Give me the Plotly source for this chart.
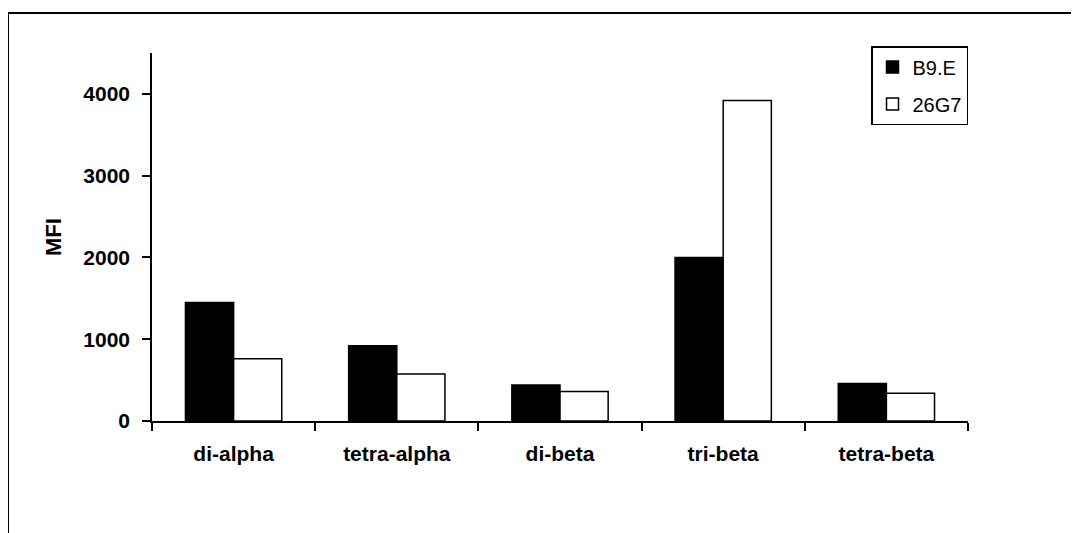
import plotly.graph_objects as go

categories = ["di-alpha", "tetra-alpha", "di-beta", "tri-beta", "tetra-beta"]
b9e = [1450, 920, 440, 2000, 460]
g26 = [760, 575, 360, 3920, 340]
series_names = ["B9.E", "26G7"]

fig = go.Figure()
fig.add_trace(go.Bar(x=categories, y=b9e, name=series_names[0], legendgroup="a",
                     marker=dict(color="black", line=dict(color="black", width=1.5))))
fig.add_trace(go.Bar(x=categories, y=g26, name=series_names[1], legendgroup="b",
                     marker=dict(color="white", line=dict(color="black", width=1.5))))

OFF = 8  # browser body margin
L, R, T, B = 152 - OFF, 968 - OFF, 53 - OFF, 421 - OFF
W, H = 1079, 533
pw, ph = R - L, B - T

def px(x):
    return (x - OFF - L) / pw

def py(y):
    return (B - (y - OFF)) / ph

FONT = "Liberation Sans, Arial, sans-serif"

fig.update_layout(
    width=W, height=H,
    margin=dict(l=L, r=W - R, t=T, b=H - B, pad=0),
    paper_bgcolor="white", plot_bgcolor="white",
    barmode="group", bargap=0.41, bargroupgap=0,
    font=dict(family=FONT, color="black"),
    showlegend=True,
    legend=dict(x=px(968), y=py(46), xanchor="right", yanchor="top",
                bordercolor="black", borderwidth=1.5, bgcolor="white",
                font=dict(size=20, family=FONT),
                tracegroupgap=8),
    xaxis=dict(showline=True, linecolor="black", linewidth=1.5,
               ticks="outside", tickson="boundaries", ticklen=8, tickwidth=1.5,
               tickcolor="black", ticklabelstandoff=13,
               tickfont=dict(size=21, family=FONT, weight="bold"),
               showgrid=False, zeroline=False),
    yaxis=dict(range=[0, 4500], tickvals=[0, 1000, 2000, 3000, 4000],
               showline=True, linecolor="black", linewidth=1.5,
               ticks="outside", ticklen=8, tickwidth=1.5, tickcolor="black",
               ticklabelstandoff=8,
               tickfont=dict(size=21, family=FONT, weight="bold"),
               tickformat="d",
               title=dict(text="MFI", font=dict(size=22, family=FONT, weight="bold"),
                          standoff=16),
               showgrid=False, zeroline=False),
)

# outer border (top and left visible)
fig.add_shape(type="line", xref="paper", yref="paper",
              x0=px(8), x1=px(1100), y0=py(13), y1=py(13),
              line=dict(color="black", width=2))
fig.add_shape(type="line", xref="paper", yref="paper",
              x0=px(8), x1=px(8), y0=py(13), y1=py(560),
              line=dict(color="black", width=2))

fig.write_html("out.html")
